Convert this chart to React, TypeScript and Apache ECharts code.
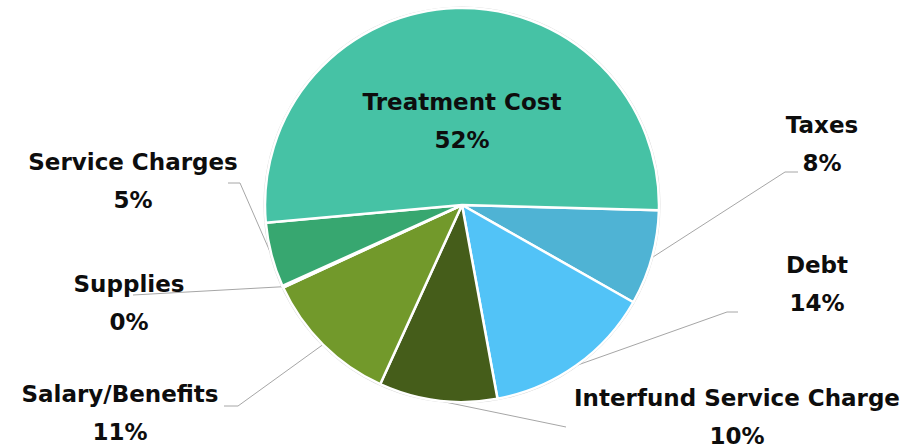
import React, { useEffect, useRef } from "react";
import * as echarts from "echarts";

// Data (clockwise from just below 3 o'clock)
const categories = [
  "Taxes",
  "Debt",
  "Interfund Service Charge",
  "Salary/Benefits",
  "Supplies",
  "Service Charges",
  "Treatment Cost",
];
const shares = [7.8, 13.9, 9.7, 11.3, 0.15, 5.3, 51.85];
const sliceColors = ["#4FB3D4", "#52C3F7", "#455D1A", "#72992B", "#9BBB59", "#37A770", "#46C2A5"];

// Label placement (layout config, pixels in chart space)
const labelCenters: Record<string, [number, number]> = {
  "Taxes": [822, 144],
  "Debt": [817, 284],
  "Interfund Service Charge": [737, 417],
  "Salary/Benefits": [120, 413],
  "Supplies": [129, 303],
  "Service Charges": [133, 181],
  "Treatment Cost": [462, 121],
};
const leaderElbows: Record<string, [number, number][]> = {
  "Taxes": [[785, 172], [798, 172]],
  "Debt": [[727, 312], [738, 312]],
  "Interfund Service Charge": [[566, 427]],
  "Salary/Benefits": [[238, 406], [224, 406]],
  "Supplies": [[133, 295]],
  "Service Charges": [[240, 183], [228, 183]],
  "Treatment Cost": [],
};

export default function App() {
  const ref = useRef<HTMLDivElement>(null);
  useEffect(() => {
    if (!ref.current) return;
    const chart = echarts.init(ref.current, undefined, { renderer: "svg" });
    const data = categories.map((name, i) => {
      const item: any = { name, value: shares[i], itemStyle: { color: sliceColors[i] } };
      if (name === "Treatment Cost") {
        item.labelLine = { show: false };
      }
      return item;
    });
    chart.setOption({
      animation: false,
      backgroundColor: "#ffffff",
      series: [
        {
          type: "pie",
          silent: true,
          center: [462, 205],
          radius: [197, 198.5],
          label: { show: false },
          labelLine: { show: false },
          itemStyle: { color: "#d4d4d4", borderWidth: 0 },
          data: [{ name: "outline", value: 1 }],
          z: 1,
        },
        {
          type: "pie",
          center: [462, 205],
          radius: [0, 197],
          startAngle: -1.5,
          clockwise: true,
          percentPrecision: 0,
          avoidLabelOverlap: false,
          minAngle: 0,
          itemStyle: { borderColor: "#ffffff", borderWidth: 2.5 },
          label: {
            show: true,
            formatter: "{b}\n{d}%",
            fontFamily: "DejaVu Sans",
            fontWeight: "bold",
            fontSize: 23,
            lineHeight: 38,
            color: "#0d0d0d",
            align: "center",
          },
          labelLine: {
            show: true,
            lineStyle: { color: "#a6a6a6", width: 1 },
          },
          labelLayout: (params: any) => {
            const name = categories[params.dataIndex];
            const c = labelCenters[name];
            const start = params.labelLinePoints ? params.labelLinePoints[0] : null;
            const out: any = {
              x: c[0],
              y: c[1],
              align: "center",
              verticalAlign: "middle",
            };
            if (start && leaderElbows[name].length) {
              out.labelLinePoints = [start, ...leaderElbows[name]];
            }
            return out;
          },
          data,
          z: 2,
        },
      ],
    });
    return () => chart.dispose();
  }, []);
  return (
    <div
      ref={ref}
      style={{ position: "fixed", left: 0, top: 0, width: 909, height: 448 }}
    />
  );
}
